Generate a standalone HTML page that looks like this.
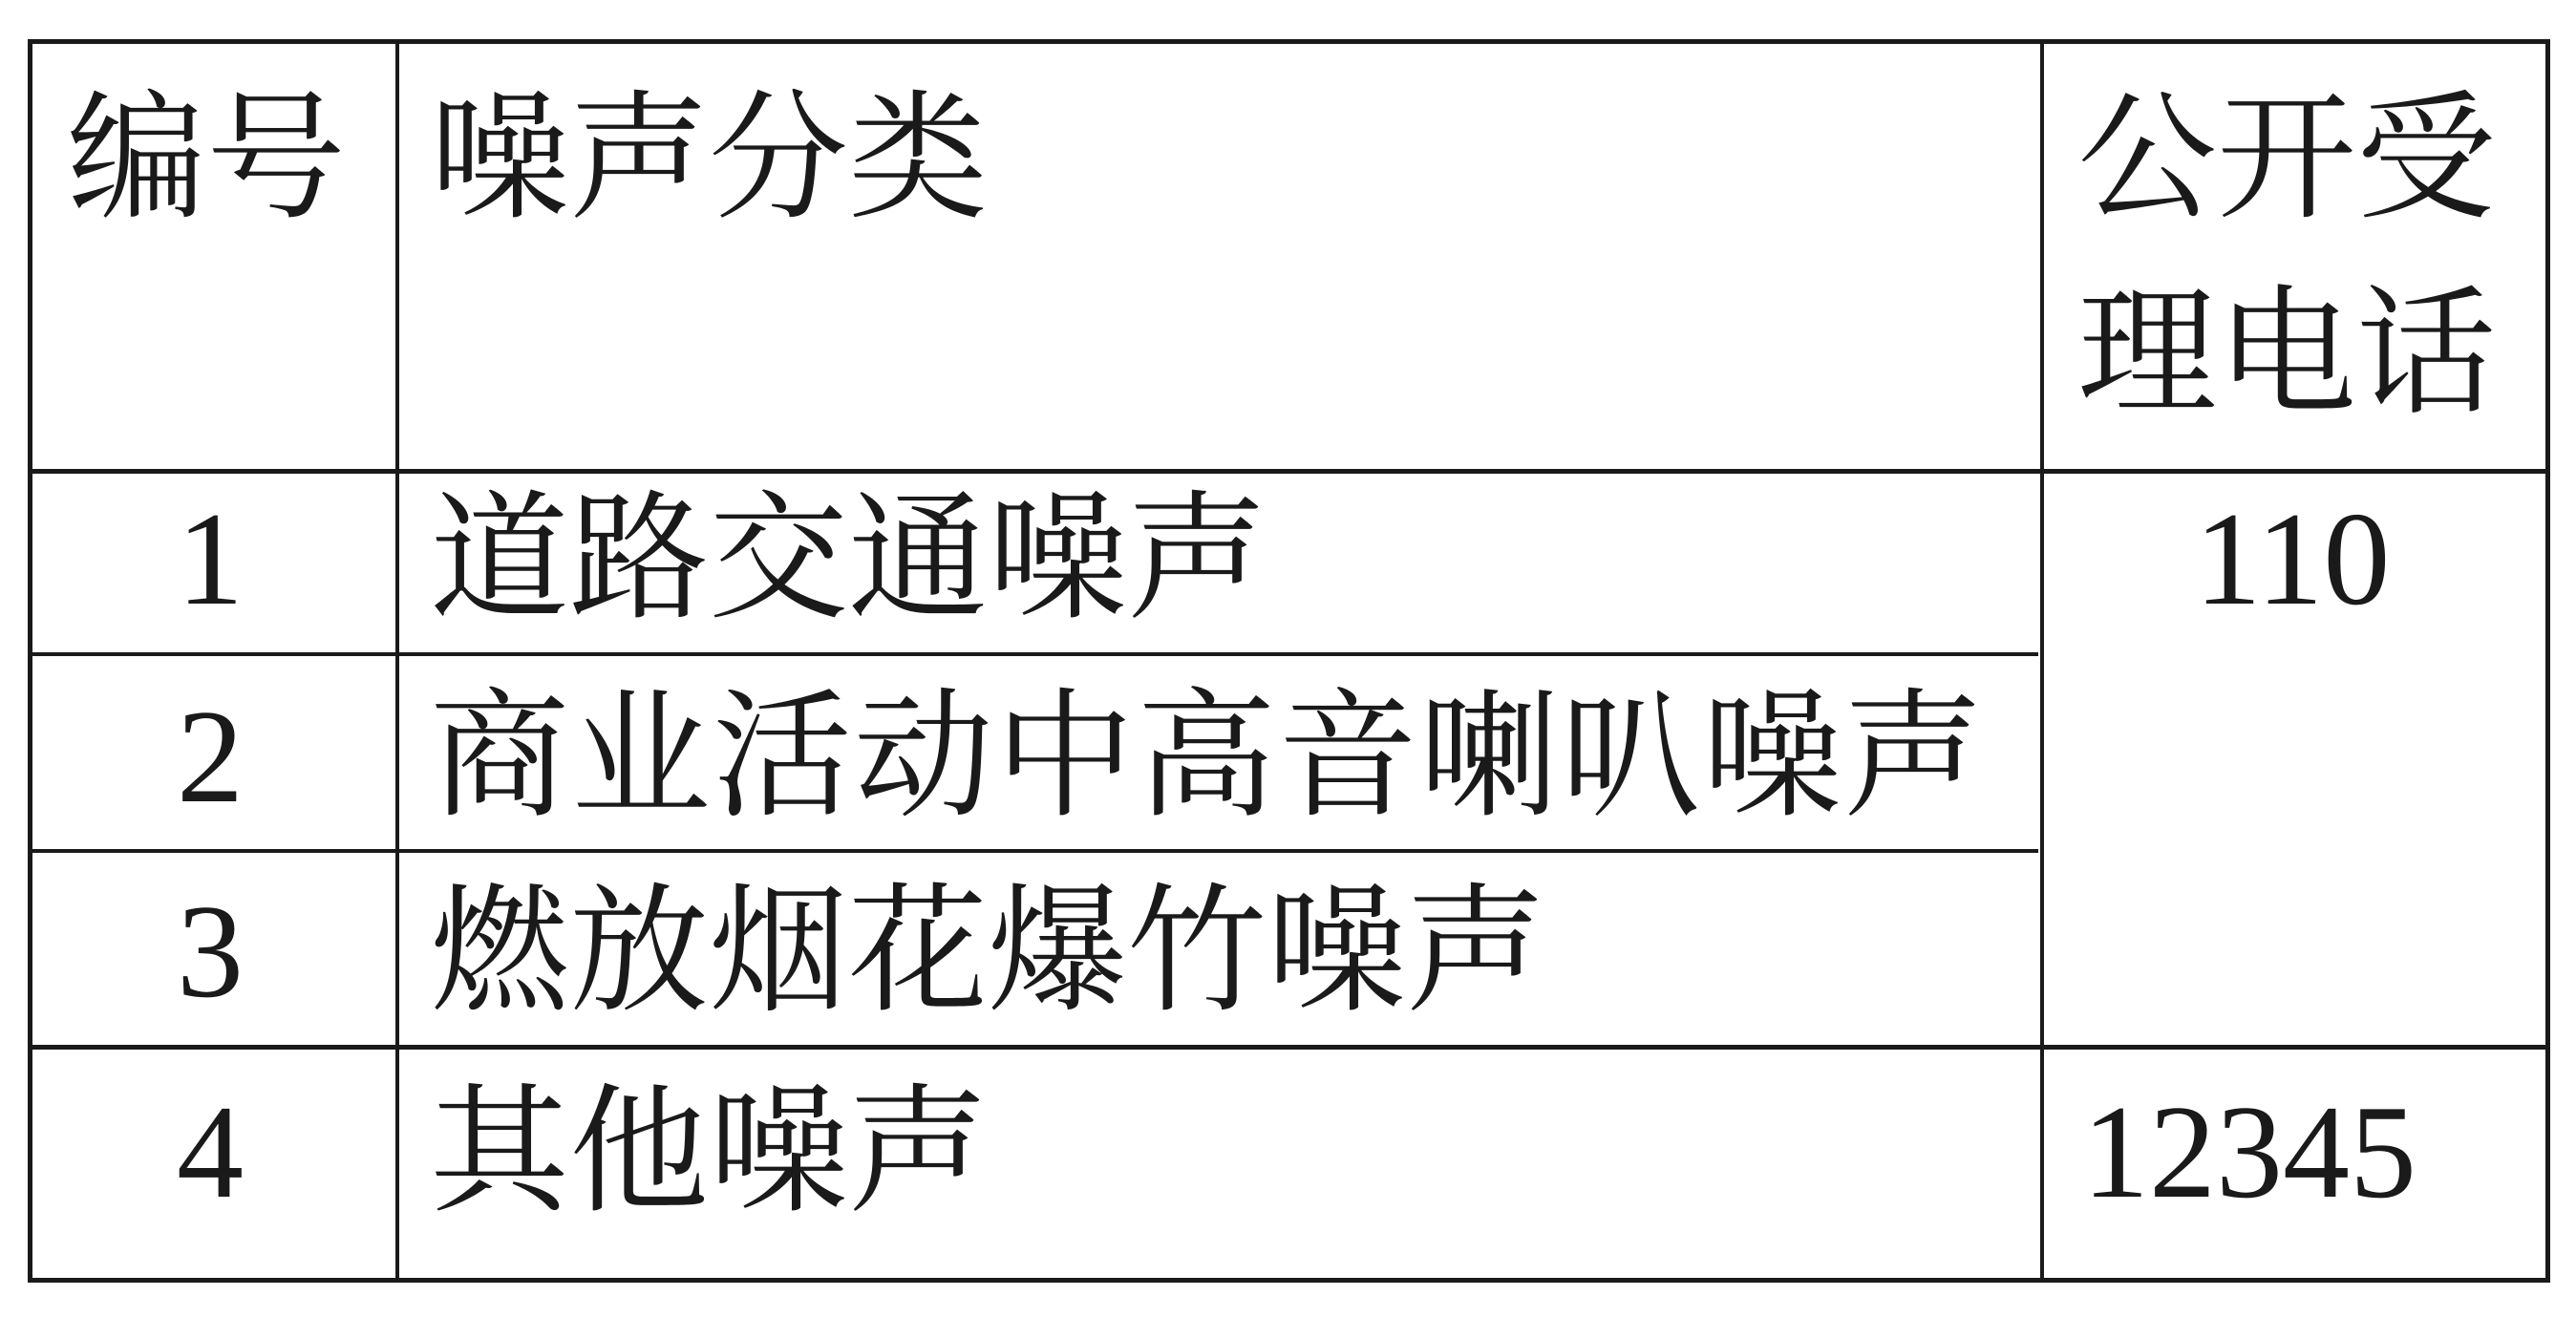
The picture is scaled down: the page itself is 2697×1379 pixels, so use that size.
<!DOCTYPE html>
<html><head><meta charset="utf-8"><style>
html,body{margin:0;padding:0;background:#fff;width:2697px;height:1379px;overflow:hidden;position:relative}
.l{position:absolute;background:#1a1a1a}
.t{position:absolute;font-family:"Liberation Serif","Noto Serif CJK SC",serif;font-size:146px;line-height:146px;color:#1a1a1a;white-space:nowrap}
.n{font-family:"Liberation Serif",serif;font-size:140px;line-height:146px}
</style></head><body>
<div class="l" style="left:29px;top:41px;width:2641px;height:5px"></div>
<div class="l" style="left:29px;top:1338px;width:2641px;height:5px"></div>
<div class="l" style="left:29px;top:41px;width:5px;height:1302px"></div>
<div class="l" style="left:2665px;top:41px;width:5px;height:1302px"></div>
<div class="l" style="left:414px;top:41px;width:4px;height:1302px"></div>
<div class="l" style="left:2136px;top:41px;width:4px;height:1302px"></div>
<div class="l" style="left:29px;top:491px;width:2641px;height:5px"></div>
<div class="l" style="left:29px;top:683px;width:2105px;height:4px"></div>
<div class="l" style="left:29px;top:889px;width:2105px;height:4px"></div>
<div class="l" style="left:29px;top:1094px;width:2641px;height:5px"></div>

<div class="t" style="left:70px;top:94px">编号</div>
<div class="t" style="left:450px;top:94px">噪声分类</div>
<div class="t" style="left:2175px;top:94px">公开受</div>
<div class="t" style="left:2175px;top:298px">理电话</div>

<div class="t n" style="left:150px;top:513px;width:140px;text-align:center">1</div>
<div class="t" style="left:450px;top:513px">道路交通噪声</div>
<div class="t n" style="left:2140px;top:513px;width:520px;text-align:center">110</div>

<div class="t n" style="left:150px;top:720px;width:140px;text-align:center">2</div>
<div class="t" style="left:450px;top:720px;letter-spacing:2px">商业活动中高音喇叭噪声</div>

<div class="t n" style="left:150px;top:924px;width:140px;text-align:center">3</div>
<div class="t" style="left:450px;top:924px">燃放烟花爆竹噪声</div>

<div class="t n" style="left:150px;top:1134px;width:140px;text-align:center">4</div>
<div class="t" style="left:450px;top:1134px">其他噪声</div>
<div class="t n" style="left:2180px;top:1134px">12345</div>
</body></html>
